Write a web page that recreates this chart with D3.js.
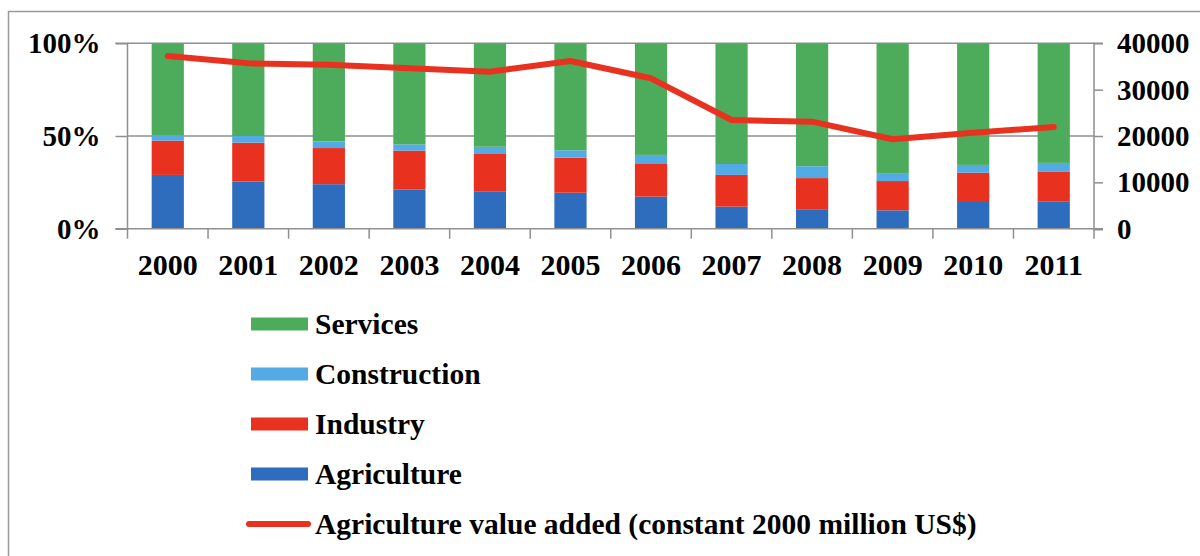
<!DOCTYPE html>
<html><head><meta charset="utf-8">
<script src="https://cdn.jsdelivr.net/npm/d3@7"></script>
<style>
html,body{margin:0;padding:0;background:#fff;}
svg text{font-family:"Liberation Serif","Times New Roman",serif !important;font-weight:bold;fill:#000;}
</style></head><body>
<svg id="chart" width="1200" height="556"></svg>
<script>
const years = ["2000","2001","2002","2003","2004","2005","2006","2007","2008","2009","2010","2011"];
const agriculture = [29.0,25.4,24.0,21.2,20.2,19.4,17.3,11.9,10.5,9.9,14.4,14.8];
const industry = [18.5,21.0,19.5,20.9,20.1,18.9,17.6,17.1,16.8,15.8,15.8,16.1];
const construction = [3.0,3.6,3.6,3.4,3.9,4.0,4.9,5.9,6.4,4.3,4.2,4.6];
const services = agriculture.map((a,i)=>100-a-industry[i]-construction[i]);
const agriValueAdded = [37260,35680,35380,34600,33870,36180,32450,23450,23090,19290,20710,21940];
const leftTicks = [0,50,100];
const rightTicks = [0,10000,20000,30000,40000];
const seriesNames = ["Agriculture","Industry","Construction","Services"];
const seriesColors = {Agriculture:"#2e6dbd",Industry:"#e8321f",Construction:"#52abe5",Services:"#4dac5b"};
const lineName = "Agriculture value added (constant 2000 million US$)";
const lineColor = "#e8321f";

const svg = d3.select("#chart");
const x0 = 127.5, x1 = 1094, yTop = 43.3, yBot = 228.7;
const gray = "#8f8f8f";

// outer frame
svg.append("path").attr("d","M8.5,600 L8.5,11.5 L1300,11.5").attr("fill","none").attr("stroke","#9a9a9a").attr("stroke-width",1.5);

const x = d3.scaleBand().domain(years).range([x0,x1]).paddingInner(0.6).paddingOuter(0.3);
const yL = d3.scaleLinear().domain([0,100]).range([yBot,yTop]);
const yR = d3.scaleLinear().domain([0,40000]).range([yBot,yTop]);

// gridlines
svg.append("g").selectAll("line").data(leftTicks.filter(t=>t>0)).join("line")
  .attr("x1",x0).attr("x2",x1).attr("y1",d=>yL(d)).attr("y2",d=>yL(d))
  .attr("stroke",gray).attr("stroke-width",1.5);

// stacked bars
const table = years.map((y,i)=>({year:y,Agriculture:agriculture[i],Industry:industry[i],Construction:construction[i],Services:services[i]}));
const stack = d3.stack().keys(seriesNames)(table);
svg.append("g").selectAll("g").data(stack).join("g").attr("fill",d=>seriesColors[d.key])
  .selectAll("rect").data(d=>d).join("rect")
  .attr("x",d=>x(d.data.year)).attr("width",x.bandwidth())
  .attr("y",d=>yL(d[1])).attr("height",d=>yL(d[0])-yL(d[1]));

// left axis
const gl = svg.append("g").attr("transform",`translate(${x0},0)`)
  .call(d3.axisLeft(yL).tickValues(leftTicks).tickFormat(d=>d+"%").tickSize(12).tickPadding(15));
gl.attr("font-family",null).attr("font-size",null);
gl.select(".domain").attr("stroke",gray).attr("stroke-width",1.5).attr("d",`M-12,${yTop}H0V${yBot}H-12`);
gl.selectAll(".tick line").attr("stroke",gray).attr("stroke-width",1.5);
gl.selectAll(".tick text").style("font-size","29px").attr("dy","0.33em");

// right axis
const gr = svg.append("g").attr("transform",`translate(${x1},0)`)
  .call(d3.axisRight(yR).tickValues(rightTicks).tickFormat(d3.format("d")).tickSize(9).tickPadding(14));
gr.attr("font-family",null).attr("font-size",null);
gr.select(".domain").attr("stroke",gray).attr("stroke-width",1.5).attr("d",`M9,${yTop}H0V${yBot+1}H9`);
gr.selectAll(".tick line").attr("stroke",gray).attr("stroke-width",1.5);
gr.selectAll(".tick text").style("font-size","29px").attr("dy","0.33em");

// bottom axis
const xTickScale = d3.scalePoint().domain(d3.range(years.length+1)).range([x0,x1]);
const gb = svg.append("g").attr("transform",`translate(0,${yBot})`);
gb.append("line").attr("x1",x0-12).attr("x2",x1+9).attr("y1",0).attr("y2",0).attr("stroke",gray).attr("stroke-width",1.5);
gb.selectAll("line.t").data(d3.range(years.length+1)).join("line").attr("class","t")
  .attr("x1",d=>xTickScale(d)).attr("x2",d=>xTickScale(d)).attr("y1",0).attr("y2",10)
  .attr("stroke",gray).attr("stroke-width",1.5);
gb.selectAll("text").data(years).join("text")
  .attr("x",d=>x(d)+x.bandwidth()/2).attr("y",46).attr("text-anchor","middle")
  .style("font-size","30px").text(d=>d);

// line
const line = d3.line().x((d,i)=>x(years[i])+x.bandwidth()/2).y(d=>yR(d));
svg.append("path").datum(agriValueAdded).attr("d",line).attr("fill","none")
  .attr("stroke",lineColor).attr("stroke-width",6).attr("stroke-linejoin","round").attr("stroke-linecap","round");

// legend
const legendItems = [
  {name:"Services",color:seriesColors.Services,type:"rect"},
  {name:"Construction",color:seriesColors.Construction,type:"rect"},
  {name:"Industry",color:seriesColors.Industry,type:"rect"},
  {name:"Agriculture",color:seriesColors.Agriculture,type:"rect"},
  {name:lineName,color:lineColor,type:"line"}
];
const lg = svg.append("g");
const li = lg.selectAll("g").data(legendItems).join("g").attr("transform",(d,i)=>`translate(251,${324+i*50})`);
li.filter(d=>d.type==="rect").append("rect").attr("x",0).attr("y",-6.5).attr("width",57).attr("height",13).attr("fill",d=>d.color);
li.filter(d=>d.type==="line").append("line").attr("x1",-2).attr("x2",57).attr("y1",0).attr("y2",0).attr("stroke",d=>d.color).attr("stroke-width",6).attr("stroke-linecap","round");
li.append("text").attr("x",64).attr("y",0).attr("dy","0.35em").style("font-size","29.5px").text(d=>d.name);
</script>
</body></html>
